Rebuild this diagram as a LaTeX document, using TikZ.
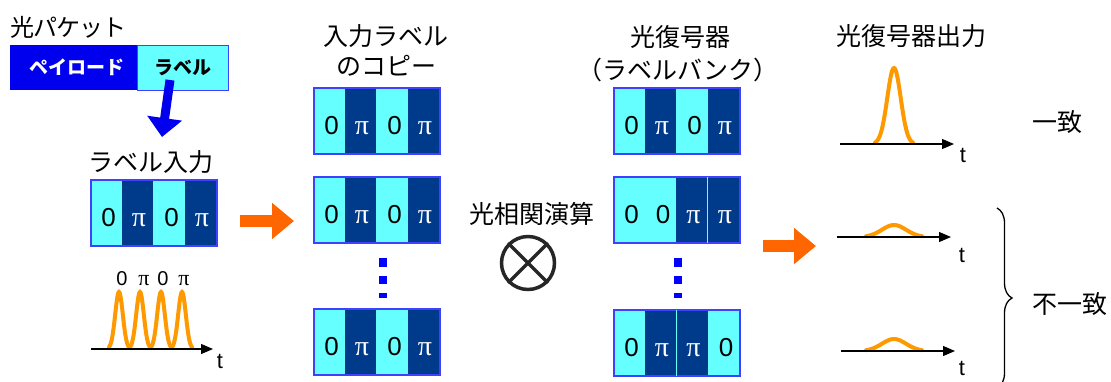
\documentclass[tikz,border=0pt]{standalone}
\usepackage{fontspec}
\setmainfont{Liberation Sans}
\newfontfamily\jp{Noto Sans CJK JP}
\newfontfamily\piserif{Liberation Serif}
\usetikzlibrary{arrows.meta,decorations.pathreplacing}

\definecolor{cy}{HTML}{66FFFF}
\definecolor{db}{HTML}{003A8A}
\definecolor{bd}{HTML}{4040FF}
\definecolor{pay}{HTML}{0000EE}
\definecolor{org}{HTML}{FF6600}
\definecolor{pul}{HTML}{FF9900}

\newcommand\fwc[1]{\makebox[23pt]{#1}}

\tikzset{
 cellc/.style={fill=cy,minimum width=32pt,minimum height=66pt,inner sep=0,anchor=north west,draw=none},
 celld/.style={cellc,fill=db},
 zero/.style={anchor=base,font=\fontsize{26}{26}\selectfont,text=black,inner sep=0},
 pitxt/.style={anchor=base,font=\piserif\fontsize{28}{28}\selectfont,text=white,inner sep=0},
 boxframe/.style={draw=bd,line width=1.5pt,minimum width=126pt,minimum height=66pt,inner sep=0,anchor=north west},
 jt/.style={font=\jp\fontsize{25}{25}\selectfont,inner sep=0},
 ttxt/.style={font=\fontsize{22}{22}\selectfont,inner sep=0},
 smallnum/.style={anchor=base,font=\fontsize{20}{20}\selectfont,inner sep=0},
 smallpi/.style={anchor=base,font=\piserif\fontsize{22}{22}\selectfont,inner sep=0},
 axis/.style={line width=1.2pt,-{Triangle[length=12pt,width=10pt]}},
 pulse/.style={pul,line width=4pt,line cap=round},
 bigarrow/.style={org,line width=12pt,-{Triangle[length=22pt,width=35pt]}},
 dotsq/.style={fill=blue,draw=none},
}

\newcommand\lbox[4]{%
  \foreach \k [count=\i] in {#4} {%
    \pgfmathsetmacro\cx{#2+(\i-1)*31.5}%
    \if\k c%
      \node[cellc] (#1-\i) at (\cx,#3) {};
      \node[zero] (#1-t\i) at (\cx+18.5,#3+47) {0};
    \else
      \node[celld] (#1-\i) at (\cx,#3) {};
      \node[pitxt] (#1-t\i) at (\cx+17.5,#3+47) {π};
    \fi
  }%
  \node[boxframe] (#1) at (#2,#3) {};
}

\begin{document}
\begin{tikzpicture}[x=1pt,y=-1pt]
\useasboundingbox (0,0) rectangle (1111,381);

% optical packet
\node[jt,font=\jp\fontsize{24}{24}\selectfont,anchor=west] (pk) at (11,27) {\fwc{光}\fwc{パ}\fwc{ケ}\fwc{ッ}\fwc{ト}};
\node[fill=pay,minimum width=127pt,minimum height=45pt,anchor=north west,inner sep=0,
      text=white,font=\jp\bfseries\fontsize{19}{19}\selectfont] (pay) at (10,45) {\hspace{6pt}ペイロード};
\node[fill=cy,draw=bd,line width=1.2pt,minimum width=91pt,minimum height=45pt,anchor=north west,inner sep=0,
      font=\jp\bfseries\fontsize{19}{19}\selectfont] (lab) at (137,45) {ラベル};
\coordinate (ba) at (170,80);
\coordinate (bb) at (162,137);
\draw[pay,line width=9pt,-{Triangle[length=19pt,width=34pt]}] (ba) -- (bb);

% label input
\node[jt] (lin) at (151,162) {ラベル入力};
\lbox{in}{90}{179}{c,d,c,d}

% input pulses
\coordinate (a0s) at (91,349);
\coordinate (a0e) at (213,349);
\foreach \p in {119,140,161,182}{
  \draw[pulse] plot[domain=\p-10:\p+10,samples=41,smooth] (\x,{349-57*exp(-((\x-\p)/5.4)^2)});
}
\draw[axis] (a0s) -- (a0e);
\node[ttxt] (t0) at (220,361) {t};
\node[smallnum] (p1) at (122,285) {0};
\node[smallpi] (p2) at (144,285) {π};
\node[smallnum] (p3) at (163,285) {0};
\node[smallpi] (p4) at (184,285) {π};

% orange arrow 1
\coordinate (o1s) at (240,221);
\coordinate (o1e) at (294,221);
\draw[bigarrow] (o1s) -- (o1e);

% copies of input label
\node[jt] (c1a) at (386,36) {入力ラベル};
\node[jt] (c1b) at (386,66) {のコピー};
\lbox{ca}{313}{87}{c,d,c,d}
\lbox{cb}{313}{176}{c,d,c,d}
\lbox{cc}{313}{308}{c,d,c,d}
\fill[dotsq] (379,258) rectangle (387,267);
\fill[dotsq] (379,276) rectangle (387,284);
\fill[dotsq] (379,293) rectangle (387,298);

% correlation
\node[jt] (corr) at (532,214) {光相関演算};
\node[circle,draw=black!85,line width=3.5pt,minimum size=53pt,inner sep=0] (ox) at (528,263) {};
\draw[black!85,line width=3.5pt] (ox.north west) -- (ox.south east);
\draw[black!85,line width=3.5pt] (ox.north east) -- (ox.south west);

% decoder bank
\node[jt] (d1a) at (680,37) {光復号器};
\node[jt] (d1b) at (678,70) {（ラベルバンク）};
\lbox{da}{613}{87}{c,d,c,d}
\lbox{db}{613}{176}{c,c,d,d}
\lbox{dc}{613}{309}{c,d,d,c}
\draw[cy,line width=1pt] ([xshift=94.5pt,yshift=-1pt]db.north west) -- ([xshift=94.5pt,yshift=1pt]db.south west);
\draw[cy,line width=1pt] ([xshift=63pt,yshift=-1pt]dc.north west) -- ([xshift=63pt,yshift=1pt]dc.south west);
\fill[dotsq] (674,258) rectangle (682,267);
\fill[dotsq] (674,276) rectangle (682,284);
\fill[dotsq] (674,293) rectangle (682,298);

% outputs
\node[jt] (outt) at (911,36) {光復号器出力};
\coordinate (a1s) at (840,144);
\coordinate (a1e) at (954,144);
\draw[pulse] plot[domain=875:913,samples=61,smooth] (\x,{144-76*exp(-((\x-894)/9.5)^2)});
\draw[axis] (a1s) -- (a1e);
\node[ttxt] (t1) at (963,155) {t};
\node[jt] (match) at (1057,122) {一致};

\coordinate (o2s) at (763,246);
\coordinate (o2e) at (816,246);
\draw[bigarrow] (o2s) -- (o2e);

\coordinate (a2s) at (837,237);
\coordinate (a2e) at (951,237);
\draw[pulse] plot[domain=866:922,samples=61,smooth] (\x,{237-12*exp(-((\x-894)/17)^2)});
\draw[axis] (a2s) -- (a2e);
\node[ttxt] (t2) at (962,255) {t};

\coordinate (a3s) at (841,351);
\coordinate (a3e) at (955,351);
\draw[pulse] plot[domain=866:922,samples=61,smooth] (\x,{351-12*exp(-((\x-894)/17)^2)});
\draw[axis] (a3s) -- (a3e);
\node[ttxt] (t3) at (962,368) {t};

\coordinate (brt) at (997,208);
\coordinate (brb) at (997,388);
\draw[line width=1.3pt,decorate,decoration={brace,amplitude=15pt}] (brt) -- (brb);
\node[jt] (mismatch) at (1070,304) {不一致};
\end{tikzpicture}
\end{document}
